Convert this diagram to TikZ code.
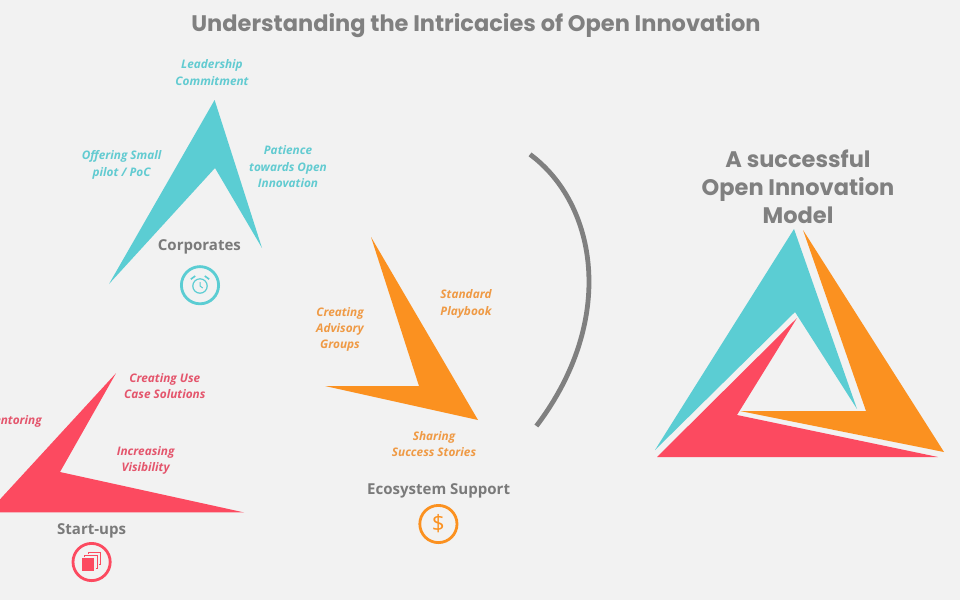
\documentclass[tikz,border=0pt]{standalone}
\usepackage{fontspec}
\setmainfont{Open Sans}
\newfontfamily\popfont{Poppins}
\definecolor{bgrey}{HTML}{F2F2F2}
\definecolor{tgrey}{HTML}{808080}
\definecolor{cteal}{HTML}{5BCDD3}
\definecolor{corange}{HTML}{FB9120}
\definecolor{cred}{HTML}{FC4A60}
\definecolor{lteal}{HTML}{62CBD1}
\definecolor{lorange}{HTML}{EF9A45}
\definecolor{lred}{HTML}{E4556C}
\tikzset{
  itemlabel/.style={font=\fontsize{8.4}{11.6}\selectfont\bfseries\itshape,align=center,inner sep=0pt},
  grouplabel/.style={font=\fontsize{10.7}{12}\selectfont\bfseries,text=tgrey!95!black,inner sep=0pt},
  iconring/.style={draw,circle,line width=0.07cm,minimum size=0.93cm,inner sep=0pt},
}
\begin{document}
\begin{tikzpicture}
\useasboundingbox (0,0) rectangle (24,-15);
\clip (0,0) rectangle (24,-15);
\fill[bgrey] (0,0) rectangle (24,-15);
% title
\node[font=\popfont\fontsize{16}{18}\selectfont\bfseries,text=tgrey,inner sep=0pt] (maintitle) at (11.900,-0.640) {Understanding the Intricacies of Open Innovation};
% corporates
\fill[cteal] (5.365,-2.500) -- (6.550,-6.200) -- (5.375,-4.200) -- (2.725,-7.100) -- cycle;
\node[itemlabel,text=lteal] (leader) at (5.300,-1.815) {Leadership\\Commitment};
\node[itemlabel,text=lteal] (pilot) at (3.040,-4.120) {Offering Small\\pilot / PoC};
\node[itemlabel,text=lteal] (patience) at (7.200,-4.170) {Patience\\towards Open\\Innovation};
\node[grouplabel] (corporates) at (4.985,-6.160) {Corporates};
\node[iconring,draw=cteal] (clockicon) at (5.000,-7.130) {};
\draw[cteal,line width=0.03cm] (clockicon.center) ++(0,-0.020) circle (0.180);
\draw[cteal,line width=0.025cm] (clockicon.center) ++(0,-0.020) -- ++(0,0.100) (clockicon.center) ++(0,-0.020) -- ++(0.070,-0.050);
\draw[cteal,line width=0.04cm] (clockicon.center) ++(-0.230,0.150) -- ++(0.110,0.080) (clockicon.center) ++(0.230,0.150) -- ++(-0.110,0.080);
% start-ups
\fill[cred] (2.900,-9.330) -- (1.500,-11.800) -- (6.100,-12.810) -- (-0.300,-12.810) -- cycle;
\node[itemlabel,text=lred] (usecase) at (4.120,-9.650) {Creating Use\\Case Solutions};
\node[itemlabel,text=lred,anchor=east] (mentoring) at (1.050,-10.540) {Mentoring};
\node[itemlabel,text=lred] (visibility) at (3.640,-11.510) {Increasing\\Visibility};
\node[grouplabel] (startups) at (2.290,-13.270) {Start-ups};
\node[iconring,draw=cred] (stackicon) at (2.290,-14.050) {};
\fill[cred] (2.040,-13.960) rectangle (2.360,-14.280);
\draw[cred,line width=0.025cm] (2.120,-13.930) -- (2.120,-13.880) -- (2.440,-13.880) -- (2.440,-14.200) -- (2.390,-14.200);
\draw[cred,line width=0.025cm] (2.200,-13.850) -- (2.200,-13.800) -- (2.520,-13.800) -- (2.520,-14.120) -- (2.470,-14.120);
% ecosystem support
\fill[corange] (9.275,-5.925) -- (11.950,-10.500) -- (8.125,-9.650) -- (10.475,-9.650) -- cycle;
\node[itemlabel,text=lorange] (playbook) at (11.650,-7.600) {Standard\\Playbook};
\node[itemlabel,text=lorange] (advisory) at (8.500,-8.240) {Creating\\Advisory\\Groups};
\node[itemlabel,text=lorange] (stories) at (10.850,-11.100) {Sharing\\Success Stories};
\node[grouplabel] (ecosystem) at (10.965,-12.270) {Ecosystem Support};
\node[iconring,draw=corange,font=\fontsize{16}{16}\selectfont,text=corange] (dollaricon) at (10.960,-13.100) {\$};
% divider
\draw[tgrey,line width=0.12cm] (13.250,-3.860) .. controls (14.930,-5.100) and (15.420,-8.000) .. (13.410,-10.650);
% model
\node[font=\popfont\fontsize{16}{19.8}\selectfont\bfseries,text=tgrey,align=center,inner sep=0pt] (modeltitle) at (19.950,-4.670) {A successful\\Open Innovation\\Model};
\fill[cteal] (19.850,-5.725) -- (21.425,-10.225) -- (19.875,-7.800) -- (16.375,-11.250) -- cycle;
\fill[corange] (20.075,-5.750) -- (23.600,-11.300) -- (18.500,-10.275) -- (21.650,-10.275) -- cycle;
\fill[cred] (19.925,-7.950) -- (18.425,-10.375) -- (23.450,-11.425) -- (16.425,-11.425) -- cycle;
\end{tikzpicture}
\end{document}
